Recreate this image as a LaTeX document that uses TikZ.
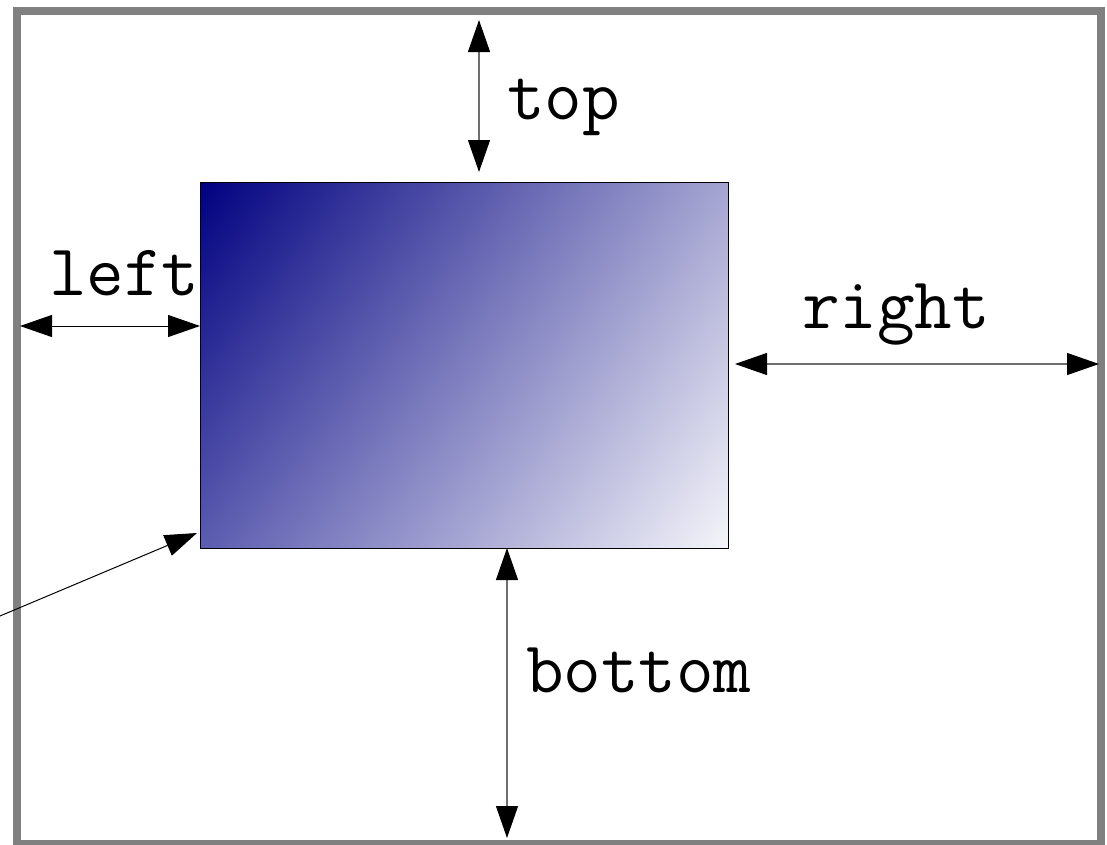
\documentclass[tikz,border=0pt]{standalone}
\usetikzlibrary{arrows.meta,shadings}
\definecolor{navyc}{RGB}{0,0,128}
\definecolor{urc}{RGB}{165,165,210}
\definecolor{llc}{RGB}{92,92,176}
\definecolor{framec}{RGB}{128,128,128}
\definecolor{linec}{RGB}{110,110,110}
\tikzset{
  tip/.tip={Triangle[length=32pt,width=22pt,color=black]},
  frameline/.style={draw=framec, line width=8pt, outer sep=0pt, inner sep=0pt},
  dim/.style={tip-tip, line width=1.2pt, draw=linec},
  onearrow/.style={-tip, line width=1pt, draw=black},
  lbl/.style={font=\ttfamily\fontsize{73}{73}\selectfont, inner sep=0pt, outer sep=0pt, anchor=base west},
  gradbox/.style={draw=black, line width=1pt, inner sep=0pt, outer sep=0pt, minimum width=528pt, minimum height=366pt,
    upper left=navyc, lower right=white!96!navyc, upper right=urc, lower left=llc}
}
\begin{document}
\begin{tikzpicture}[x=1pt,y=-1pt]
\useasboundingbox (0,0) rectangle (1107,844);
\fill[white] (0,0) rectangle (1107,844);
\node[frameline, minimum width=1084.5pt, minimum height=833pt, anchor=north west] (frame) at (16.5,11) {};
\node[gradbox, anchor=north west, shade] (box) at (200,182) {};
% top
\coordinate (t1) at (479,20);
\coordinate (t2) at (479,172);
\draw[dim] (t1) -- (t2);
\node[lbl] (toplbl) at (507,119) {top};
% left
\coordinate (l1) at (20,326);
\coordinate (l2) at (box.west |- 0,326);
\draw[dim, draw=black, line width=1pt] (l1) -- (l2);
\node[lbl] (leftlbl) at (49,295) {left};
% right
\coordinate (r1) at (735,364);
\coordinate (r2) at (1099,364);
\draw[dim] (r1) -- (r2);
\node[lbl] (rightlbl) at (802,328) {right};
% bottom
\coordinate (b1) at (box.south -| 507,0);
\coordinate (b2) at (507,838);
\draw[dim] (b1) -- (b2);
\node[lbl] (bottomlbl) at (526,692) {bottom};
% diagonal
\coordinate (d0) at (-10,620.2);
\coordinate (d1) at (197,533);
\draw[onearrow] (d0) -- (d1);
\end{tikzpicture}
\end{document}
